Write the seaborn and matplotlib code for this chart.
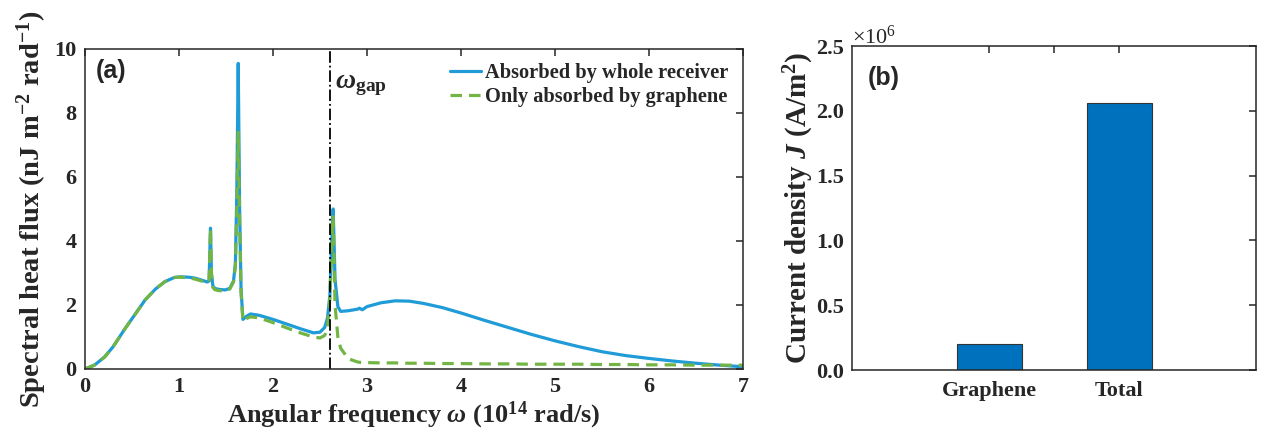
import numpy as np
import pandas as pd
import matplotlib
matplotlib.use("Agg")
import matplotlib.pyplot as plt
import seaborn as sns

# ---------------- data ----------------
omega = [0, 0.1, 0.21, 0.3, 0.43, 0.55, 0.64, 0.75, 0.85, 0.95, 1.01, 1.1, 1.17,
         1.25, 1.3, 1.32, 1.335, 1.345, 1.36, 1.38, 1.42, 1.49, 1.54, 1.58, 1.60,
         1.615, 1.63, 1.645, 1.66, 1.68, 1.72, 1.76, 1.85, 2.0, 2.15, 2.3, 2.43,
         2.5, 2.55, 2.58, 2.605, 2.625, 2.64, 2.66, 2.69, 2.72, 2.8, 2.9, 2.92,
         2.95, 3.0, 3.15, 3.3, 3.45, 3.6, 3.8, 4.0, 4.25, 4.5, 4.75, 5.0, 5.25,
         5.5, 5.75, 6.0, 6.25, 6.5, 6.75, 7.0]

flux_receiver = [0, 0.12, 0.38, 0.7, 1.28, 1.78, 2.16, 2.5, 2.73, 2.86, 2.88, 2.87,
                 2.84, 2.77, 2.72, 2.75, 4.4, 3.0, 2.6, 2.52, 2.49, 2.47, 2.52,
                 2.75, 3.3, 5.5, 9.55, 5.0, 2.5, 1.55, 1.65, 1.72, 1.68, 1.55,
                 1.4, 1.25, 1.13, 1.15, 1.3, 1.6, 2.3, 4.0, 5.0, 2.8, 1.95, 1.8,
                 1.82, 1.87, 1.9, 1.85, 1.95, 2.07, 2.13, 2.12, 2.05, 1.92, 1.75,
                 1.52, 1.3, 1.08, 0.88, 0.7, 0.54, 0.42, 0.33, 0.25, 0.18, 0.12, 0.07]

flux_graphene = [0, 0.12, 0.38, 0.7, 1.28, 1.78, 2.16, 2.5, 2.73, 2.86, 2.87, 2.85,
                 2.81, 2.74, 2.69, 2.72, 4.4, 2.95, 2.55, 2.48, 2.45, 2.44, 2.5,
                 2.72, 3.2, 5.0, 7.4, 4.6, 2.4, 1.5, 1.58, 1.63, 1.6, 1.45,
                 1.28, 1.12, 1.0, 0.97, 1.05, 1.3, 2.2, 3.8, 4.8, 2.0, 1.0, 0.65,
                 0.32, 0.22, 0.21, 0.2, 0.2, 0.19, 0.19, 0.18, 0.18, 0.17, 0.17,
                 0.16, 0.16, 0.15, 0.15, 0.15, 0.14, 0.14, 0.13, 0.13, 0.12, 0.12, 0.12]

omega_gap = 2.61

categories = ["Graphene", "Total"]
current_density = [0.2e6, 2.06e6]

legend_labels = ["Absorbed by whole receiver", "Only absorbed by graphene"]

# ---------------- style ----------------
sns.set_theme(style="white")
plt.rcParams.update({
    "font.family": ["Liberation Serif", "DejaVu Serif"],
    "font.weight": "bold",
    "axes.labelweight": "bold",
    "mathtext.fontset": "custom",
    "mathtext.rm": "Liberation Serif:bold",
    "mathtext.it": "Liberation Serif:italic",
    "mathtext.bf": "Liberation Serif:bold",
    "mathtext.bfit": "Liberation Serif:italic:bold",
    "axes.edgecolor": "#262626",
    "axes.linewidth": 1.1,
    "xtick.color": "#262626",
    "ytick.color": "#262626",
})

BLUE = "#1f9bd7"
GREEN = "#72b545"
BAR = "#0072BD"
DARK = "#262626"

fig = plt.figure(figsize=(12.62, 4.41), dpi=100)
ax1 = fig.add_axes([85 / 1262, 1 - 369 / 441, (743 - 85) / 1262, (369 - 49) / 441])
ax2 = fig.add_axes([852 / 1262, 1 - 370 / 441, (1256 - 852) / 1262, (370 - 46) / 441])

# ---------------- panel (a) ----------------
df = pd.DataFrame({"omega": omega, "rec": flux_receiver, "gra": flux_graphene})
sns.lineplot(data=df, x="omega", y="rec", ax=ax1, color=BLUE, lw=2.3, sort=False,
             label=legend_labels[0])
sns.lineplot(data=df, x="omega", y="gra", ax=ax1, color=GREEN, lw=2.3, sort=False,
             linestyle=(0, (3.6, 2.2)), label=legend_labels[1])
ax1.axvline(omega_gap, color="black", lw=1.3, linestyle="-.")

ax1.set_xlim(0, 7)
ax1.set_ylim(0, 10)
ax1.set_xticks(range(0, 8))
ax1.set_yticks(range(0, 11, 2))
ax1.set_xlabel(r"Angular frequency $\omega$ (10$^{\mathregular{14}}$ rad/s)", fontsize=19, labelpad=2)
ax1.set_ylabel(r"Spectral heat flux (nJ m$^{\mathregular{-2}}$ rad$^{\mathregular{-1}}$)", fontsize=20.5, labelpad=4)

leg = ax1.legend(loc="upper right", frameon=False, handlelength=1.55,
                 handletextpad=0.2, borderaxespad=0.3, labelspacing=0.2,
                 prop={"family": "Liberation Serif", "weight": "bold", "size": 14.7})

ax1.text(0.017, 0.93, "(a)", transform=ax1.transAxes, fontsize=18, fontweight="bold",
         family="Liberation Sans", va="center", ha="left")
ax1.text(omega_gap + 0.05, 8.78, r"$\mathbfit{\omega}_{\mathregular{gap}}$", fontsize=20,
         va="baseline", ha="left")

# ---------------- panel (b) ----------------
dfb = pd.DataFrame({"cat": categories, "J": current_density})
sns.barplot(data=dfb, x="cat", y="J", ax=ax2, color=BAR, saturation=1, width=0.5,
            edgecolor="#333333", linewidth=0.8)
ax2.set_xlim(-1.056, 2.054)
ax2.set_ylim(0, 2.5e6)
ax2.set_xticks([0, 0.5, 1])
ax2.set_xticklabels(["Graphene", "", "Total"])
yt = np.arange(0, 2.51e6, 0.5e6)
ax2.set_yticks(yt)
ax2.set_yticklabels([f"{v / 1e6:.1f}" for v in yt])
ax2.set_xlabel("")
ax2.set_ylabel(r"Current density $\mathbfit{J}$ (A/m$^{\mathregular{2}}$)", fontsize=21)
ax2.yaxis.set_label_coords(-0.09, 0.5)
ax2.text(0.0, 0.99, r"×10$^{\mathregular{6}}$", transform=ax2.transAxes, fontsize=16,
         fontweight="normal", va="bottom", ha="left")
ax2.text(0.04, 0.90, "(b)", transform=ax2.transAxes, fontsize=18, fontweight="bold",
         family="Liberation Sans", va="center", ha="left")

for ax in (ax1, ax2):
    for s in ax.spines.values():
        s.set_visible(True)
        s.set_color(DARK)
        s.set_linewidth(1.1)
    ax.tick_params(direction="in", length=5, width=1.1, top=True, right=True,
                   labelsize=16, pad=6)
    for lab in ax.get_xticklabels() + ax.get_yticklabels():
        lab.set_fontweight("bold")
ax2.tick_params(axis="x", labelsize=16, pad=8)

fig.savefig("out.png", dpi=100)
